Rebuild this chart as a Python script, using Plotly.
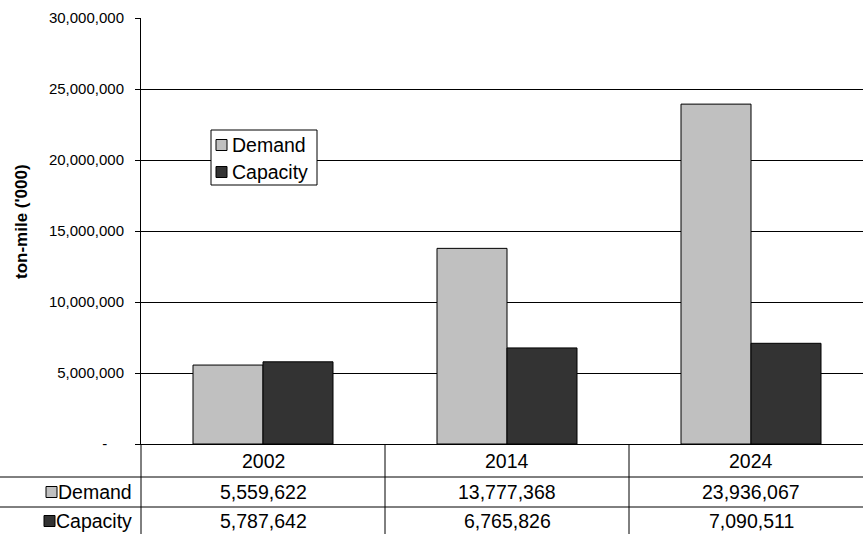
import plotly.graph_objects as go

# ---- data -------------------------------------------------------------
years = ["2002", "2014", "2024"]
demand = [5559622, 13777368, 23936067]
capacity = [5787642, 6765826, 7090511]
series_names = ["Demand", "Capacity"]
series_colors = ["#C0C0C0", "#333333"]
y_tick_values = [0, 5000000, 10000000, 15000000, 20000000, 25000000, 30000000]
y_tick_labels = ["-\u00a0\u00a0\u00a0\u00a0", "5,000,000", "10,000,000", "15,000,000",
                 "20,000,000", "25,000,000", "30,000,000"]
y_title = "ton-mile ('000)"

# ---- page geometry (pixels) -------------------------------------------
W, H = 863, 534
PL, PR, PT, PB = 141, 863, 18, 444          # plot area box
FONT = "Liberation Sans, Arial, sans-serif"
TXT = 19.5                                  # legend / table text size


def px_x(p):
    return (p - PL) / (PR - PL)


def px_y(p):
    return (PB - p) / (PB - PT)


fig = go.Figure()
for name, vals, col in zip(series_names, [demand, capacity], series_colors):
    fig.add_trace(go.Bar(
        x=years, y=vals, name=name,
        marker=dict(color=col, line=dict(color="#000000", width=1)),
        showlegend=False,
    ))

shapes = []
annotations = []

# --- legend box drawn inside the plot area
shapes.append(dict(type="rect", xref="paper", yref="paper",
                   x0=px_x(211), x1=px_x(317), y0=px_y(185), y1=px_y(130),
                   line=dict(color="#000000", width=1), fillcolor="#FFFFFF", layer="above"))
for i, (name, col) in enumerate(zip(series_names, series_colors)):
    cy = 145 + i * 27
    shapes.append(dict(type="rect", xref="paper", yref="paper",
                       x0=px_x(216), x1=px_x(227), y0=px_y(cy + 5.5), y1=px_y(cy - 5.5),
                       line=dict(color="#000000", width=1), fillcolor=col, layer="above"))
    annotations.append(dict(text=name, xref="paper", yref="paper",
                            x=px_x(230), y=px_y(cy), xanchor="left", yanchor="middle",
                            showarrow=False, font=dict(family=FONT, size=TXT, color="#000000")))

# --- data table under the x axis
row_lines = [477, 507]
for yl in row_lines:
    shapes.append(dict(type="line", xref="paper", yref="paper",
                       x0=px_x(0), x1=1, y0=px_y(yl), y1=px_y(yl),
                       line=dict(color="#000000", width=1)))
shapes.append(dict(type="line", xref="paper", yref="paper",
                   x0=0, x1=0, y0=0, y1=px_y(540),
                   line=dict(color="#000000", width=1)))
for b in [0.5, 1.5]:
    shapes.append(dict(type="line", xref="x", yref="paper",
                       x0=b, x1=b, y0=0, y1=px_y(540),
                       line=dict(color="#000000", width=1)))

row_centers = [460.5, 492, 521]
label_widths = [74, 76]                     # rendered widths of the row labels
for i, yr in enumerate(years):
    annotations.append(dict(text=yr, xref="x", yref="paper", x=i, y=px_y(row_centers[0]),
                            xanchor="center", yanchor="middle", showarrow=False,
                            font=dict(family=FONT, size=TXT, color="#000000")))
for r, (name, vals, col) in enumerate(zip(series_names, [demand, capacity], series_colors)):
    cy = row_centers[r + 1]
    key_right = 133 - label_widths[r] - 2
    shapes.append(dict(type="rect", xref="paper", yref="paper",
                       x0=px_x(key_right - 11), x1=px_x(key_right), y0=px_y(cy + 5.5), y1=px_y(cy - 5.5),
                       line=dict(color="#000000", width=1), fillcolor=col))
    annotations.append(dict(text=name, xref="paper", yref="paper",
                            x=px_x(134), y=px_y(cy), xanchor="right", yanchor="middle",
                            showarrow=False, font=dict(family=FONT, size=TXT, color="#000000")))
    for i, v in enumerate(vals):
        annotations.append(dict(text=f"{v:,}", xref="x", yref="paper", x=i, y=px_y(cy),
                                xanchor="center", yanchor="middle", showarrow=False,
                                font=dict(family=FONT, size=TXT, color="#000000")))

# --- vertical axis title
annotations.append(dict(text=f"<b>{y_title}</b>", xref="paper", yref="paper",
                        x=px_x(21), y=px_y(222), xanchor="center", yanchor="middle",
                        textangle=-90, showarrow=False,
                        font=dict(family=FONT, size=17, color="#000000")))

fig.update_layout(
    width=W, height=H,
    margin=dict(l=PL, r=W - PR, t=PT, b=H - PB, pad=0),
    paper_bgcolor="#FFFFFF", plot_bgcolor="#FFFFFF",
    barmode="group", bargap=1 - 140 / 244, bargroupgap=0,
    font=dict(family=FONT, size=15, color="#000000"),
    shapes=shapes, annotations=annotations,
    showlegend=False,
)
fig.update_xaxes(
    type="category", range=[-0.5, -0.5 + (PR - PL) / 244],
    showticklabels=False, ticks="", showgrid=False,
    showline=True, linecolor="#000000", linewidth=1, zeroline=False,
)
fig.update_yaxes(
    range=[0, 30000000], tickvals=y_tick_values, ticktext=y_tick_labels,
    ticks="outside", ticklen=5, tickcolor="#000000", tickwidth=1,
    ticklabelstandoff=8,
    showgrid=True, gridcolor="#000000", gridwidth=1,
    showline=True, linecolor="#000000", linewidth=1, zeroline=False,
    tickfont=dict(family=FONT, size=15, color="#000000"),
)

fig.write_html("out.html")
